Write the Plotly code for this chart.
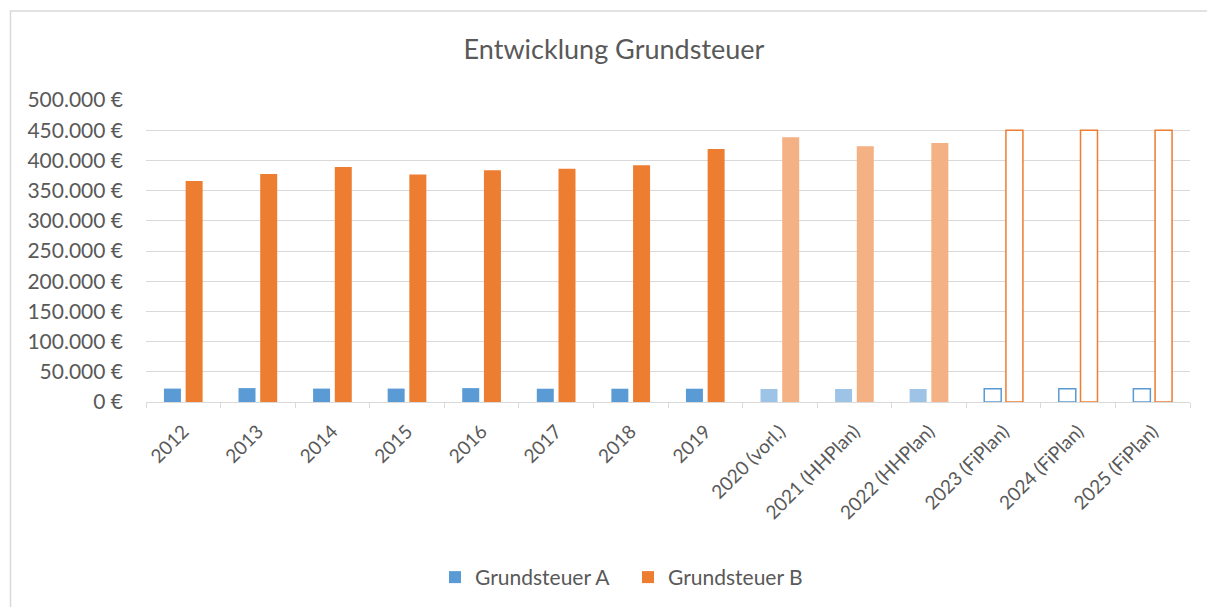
import plotly.graph_objects as go

categories = ["2012", "2013", "2014", "2015", "2016", "2017", "2018", "2019",
              "2020 (vorl.)", "2021 (HHPlan)", "2022 (HHPlan)",
              "2023 (FiPlan)", "2024 (FiPlan)", "2025 (FiPlan)"]
grundsteuer_a = [22200, 23000, 22200, 22200, 23000, 22000, 22000, 22000,
                 21500, 21500, 21500, 22000, 22000, 22000]
grundsteuer_b = [366000, 377500, 389000, 376500, 383500, 386000, 392000, 419000,
                 438500, 423500, 429000, 450000, 450000, 450000]
status = ["ist"] * 8 + ["plan"] * 3 + ["fin"] * 3

y_ticks = list(range(0, 500001, 50000))
y_ticktext = [f"{v:,}".replace(",", ".") + " €" for v in y_ticks]

BLUE, BLUE_L = "#5B9BD5", "#9DC3E6"
ORANGE, ORANGE_L = "#ED7D31", "#F4B183"


def fills(base, light):
    return [base if s == "ist" else light if s == "plan" else "white" for s in status]


def lines(base):
    return [base if s == "fin" else "rgba(0,0,0,0)" for s in status]


def widths():
    return [1.5 if s == "fin" else 0 for s in status]


fig = go.Figure()
fig.add_bar(name="Grundsteuer A", x=categories, y=grundsteuer_a,
            marker=dict(color=fills(BLUE, BLUE_L),
                        line=dict(color=lines(BLUE), width=widths())))
fig.add_bar(name="Grundsteuer B", x=categories, y=grundsteuer_b,
            marker=dict(color=fills(ORANGE, ORANGE_L),
                        line=dict(color=lines(ORANGE), width=widths())))

FONT = "Lato, 'Open Sans', sans-serif"
GRID = "#D9D9D9"
TXT = "#595959"

OFF = 8  # page body margin
W, H = 1215 - OFF, 607 - OFF
L, R, T, B = 146 - OFF, 25, 100 - OFF, 607 - 401.7
pw = W - L - R
ph = H - T - B

fig.update_layout(
    width=W, height=H,
    margin=dict(l=L, r=R, t=T, b=B, autoexpand=False),
    paper_bgcolor="white", plot_bgcolor="white",
    font=dict(family=FONT, color=TXT, size=20),
    title=dict(text="Entwicklung Grundsteuer", x=(614 - OFF) / W, xanchor="center",
               y=1 - (50 - OFF) / H, yanchor="middle",
               font=dict(family=FONT, size=27, color=TXT)),
    barmode="group", bargap=0.418, bargroupgap=0.217,
    showlegend=True,
    legend=dict(orientation="h", x=0.5 + (628 - OFF - (L + pw / 2)) / pw, xanchor="center",
                y=-(577 - OFF - (T + ph)) / ph, yanchor="middle",
                font=dict(family=FONT, size=21, color=TXT),
                itemwidth=30, entrywidth=148, entrywidthmode="pixels",
                traceorder="normal"),
    xaxis=dict(type="category", tickangle=-45, showgrid=False,
               showline=True, linecolor=GRID, linewidth=1,
               ticks="outside", tickson="boundaries", ticklen=5, tickcolor=GRID,
               ticklabelstandoff=10,
               tickfont=dict(family=FONT, size=19, color=TXT)),
    yaxis=dict(range=[0, 500000], tickmode="array", tickvals=y_ticks, ticktext=y_ticktext,
               showgrid=True, gridcolor=GRID, gridwidth=1, zeroline=False,
               showline=False, ticks="", ticklabelstandoff=22,
               tickfont=dict(family=FONT, size=21, color=TXT)),
)

# chart outer border (Excel chart area)
x_left = (10.5 - OFF - L) / pw
x_right = (W + 20 - L) / pw
y_top = (T + ph - (11 - OFF)) / ph
y_bot = -(H + 20 - T - ph) / ph
fig.add_shape(type="path", xref="paper", yref="paper",
              path=f"M {x_left} {y_bot} L {x_left} {y_top} L {x_right} {y_top}",
              line=dict(color=GRID, width=1.5), layer="below")

fig.write_html("out.html")
